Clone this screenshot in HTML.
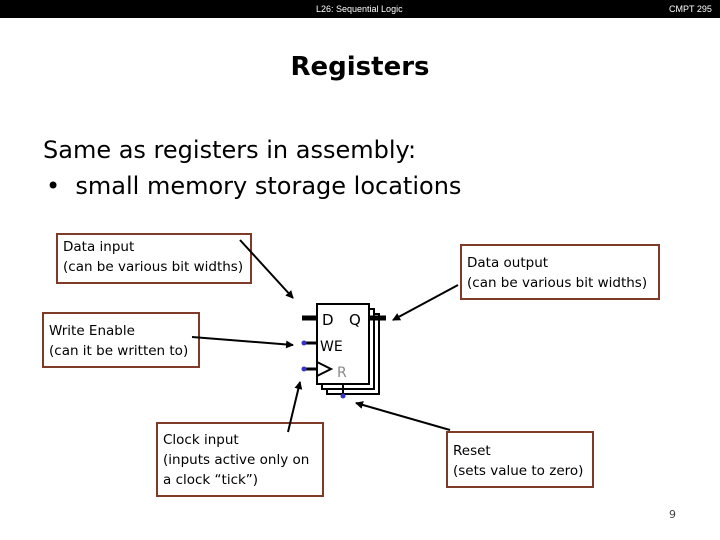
<!DOCTYPE html>
<html><head><style>
body{margin:0;width:720px;height:540px;background:#fff;position:relative;overflow:hidden;font-family:"DejaVu Sans","Liberation Sans",sans-serif}
.bar{position:absolute;left:0;top:0;width:720px;height:18px;background:#000;color:#fff;font-family:"Liberation Sans",sans-serif;font-size:9px}
.t{position:absolute;white-space:nowrap}
.box{position:absolute;border:2px solid #7f3a28;box-sizing:border-box;font-size:13.5px;line-height:20px;padding:2px 0 0 5px;color:#000}
</style></head><body>
<div class="bar"><span class="t" style="left:316px;top:4px">L26: Sequential Logic</span><span class="t" style="left:669px;top:4px">CMPT 295</span></div>
<div class="t" style="left:0;width:720px;text-align:center;top:52px;font-size:26px;font-weight:bold">Registers</div>
<div class="t" style="left:43px;top:136px;font-size:24px">Same as registers in assembly:</div>
<div class="t" style="left:46px;top:172px;font-size:24px">•&nbsp; small memory storage locations</div>
<div class="box" style="left:56px;top:233px;width:196px;height:51px">Data input<br>(can be various bit widths)</div>
<div class="box" style="left:460px;top:244px;width:200px;height:56px;padding-top:7px">Data output<br>(can be various bit widths)</div>
<div class="box" style="left:42px;top:312px;width:158px;height:56px;padding-top:7px">Write Enable<br>(can it be written to)</div>
<div class="box" style="left:156px;top:422px;width:168px;height:75px;padding-top:6px">Clock input<br>(inputs active only on<br>a clock “tick”)</div>
<div class="box" style="left:446px;top:431px;width:148px;height:57px;padding-top:8px">Reset<br>(sets value to zero)</div>
<div class="t" style="left:669px;top:508px;font-size:11px;color:#444">9</div>
<svg width="720" height="540" style="position:absolute;left:0;top:0">
<defs><marker id="a" markerWidth="8" markerHeight="8" refX="7" refY="4" orient="auto" markerUnits="userSpaceOnUse"><path d="M0,0L8,4L0,8z"/></marker></defs>
<g stroke="#000" stroke-width="2">
<rect x="327" y="314" width="52" height="80" fill="#fff"/>
<rect x="322" y="309" width="52" height="80" fill="#fff"/>
<rect x="317" y="304" width="52" height="80" fill="#fff"/>
<line x1="302" y1="318" x2="317" y2="318" stroke-width="5"/>
<line x1="369" y1="318" x2="386" y2="318" stroke-width="5"/>
<line x1="304" y1="343" x2="318" y2="343" stroke-width="3"/>
<line x1="304" y1="369" x2="318" y2="369" stroke-width="3"/>
<path d="M317,362L331,369L317,376" fill="none"/>
<line x1="343" y1="384" x2="343" y2="395"/>
<line x1="240" y1="240" x2="293" y2="298" marker-end="url(#a)"/>
<line x1="458" y1="285" x2="393" y2="320" marker-end="url(#a)"/>
<line x1="192" y1="337" x2="293" y2="345" marker-end="url(#a)"/>
<line x1="288" y1="432" x2="300" y2="382" marker-end="url(#a)"/>
<line x1="450" y1="430" x2="356" y2="403" marker-end="url(#a)"/>
</g>
<g fill="#33c"><circle cx="304" cy="343" r="2.5"/><circle cx="304" cy="369" r="2.5"/><circle cx="343" cy="396" r="2.5"/></g>
<text x="322" y="325" font-family="DejaVu Sans" font-size="15">D</text>
<text x="349" y="325" font-family="DejaVu Sans" font-size="15">Q</text>
<text x="320" y="351" font-family="DejaVu Sans" font-size="14">WE</text>
<text x="337" y="377" font-family="DejaVu Sans" font-size="14" fill="#888">R</text>
</svg>
</body></html>
